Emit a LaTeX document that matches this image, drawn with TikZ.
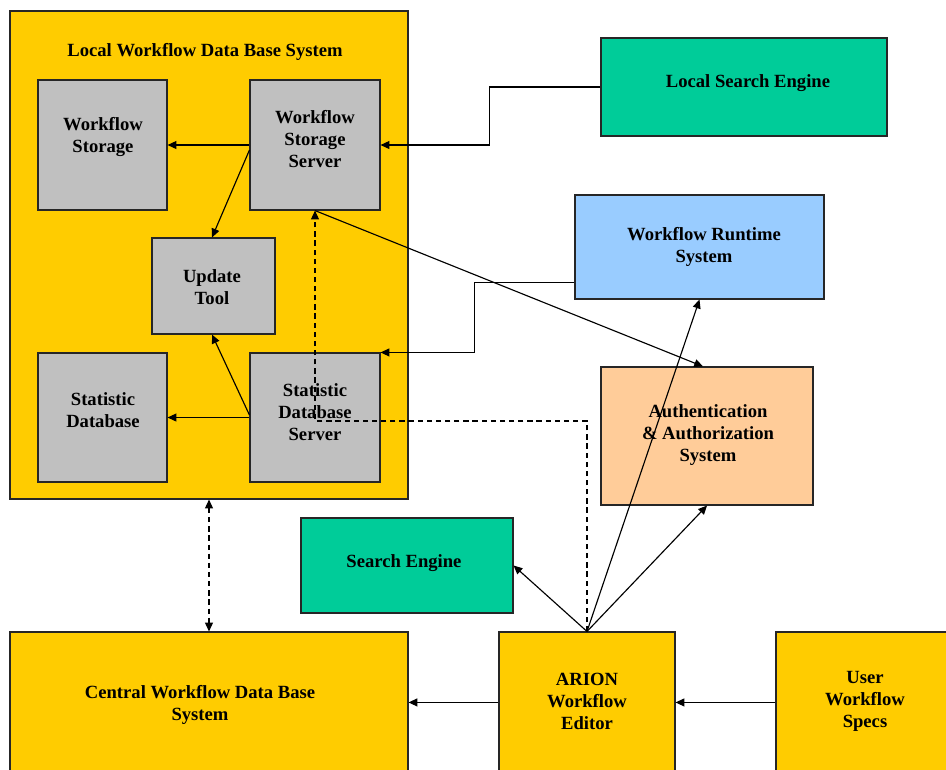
\documentclass[tikz,border=0pt]{standalone}
\usepackage{fontspec}
\setmainfont{Liberation Serif}
\usetikzlibrary{arrows.meta}
\definecolor{dbyellow}{HTML}{FFCC00}
\definecolor{boxgray}{HTML}{C0C0C0}
\definecolor{searchgreen}{HTML}{00CC99}
\definecolor{runblue}{HTML}{99CCFF}
\definecolor{authpeach}{HTML}{FFCC99}
\begin{document}
\begin{tikzpicture}[x=0.02cm,y=-0.02cm,
  >={Triangle[length=5pt,width=4.5pt]},
  box/.style={draw=black!85,line width=0.65pt,inner sep=0pt},
  lbl/.style={align=center,inner sep=0pt,font=\fontsize{10.6}{12.5}\selectfont\bfseries},
  arr/.style={line width=0.65pt,->},
  dsh/.style={line width=0.65pt,dash pattern=on 3pt off 2.2pt}]
\useasboundingbox (0,0) rectangle (946,769);
\fill[white] (0,0) rectangle (946,769);
\begin{scope}
\clip (0,0) rectangle (946,769);

% local database system and its parts
\node[box,fill=dbyellow,minimum width=7.96cm,minimum height=9.76cm] (local) at (209,255) {};
\node[lbl] (local-t) at (205,52) {Local Workflow Data Base System};
\node[box,fill=boxgray,minimum width=2.58cm,minimum height=2.60cm] (ws) at (102.5,145) {};
\node[lbl] (ws-t) at (103,137) {Workflow\\Storage};
\node[box,fill=boxgray,minimum width=2.60cm,minimum height=2.60cm] (wss) at (315,145) {};
\node[lbl] (wss-t) at (315,139) {Workflow\\Storage\\Server};
\node[box,fill=boxgray,minimum width=2.46cm,minimum height=1.92cm] (ut) at (213.5,286) {};
\node[lbl] (ut-t) at (212,287) {Update\\Tool};
\node[box,fill=boxgray,minimum width=2.58cm,minimum height=2.58cm] (sd) at (102.5,417.5) {};
\node[lbl] (sd-t) at (103,410) {Statistic\\Database};
\node[box,fill=boxgray,minimum width=2.60cm,minimum height=2.58cm] (sds) at (315,417.5) {};
\node[lbl] (sds-t) at (315,412) {Statistic\\Database\\Server};

% other systems
\node[box,fill=searchgreen,minimum width=5.72cm,minimum height=1.96cm] (lse) at (744,87) {};
\node[lbl] (lse-t) at (748,83) {Local Search Engine};
\node[box,fill=runblue,minimum width=4.98cm,minimum height=2.08cm] (wrs) at (699.5,247) {};
\node[lbl] (wrs-t) at (704,247) {Workflow Runtime\\System};
\node[box,fill=authpeach,minimum width=4.24cm,minimum height=2.76cm] (auth) at (707,436) {};
\node[lbl] (auth-t) at (708,435) {Authentication\\\& Authorization\\System};
\node[box,fill=searchgreen,minimum width=4.24cm,minimum height=1.90cm] (se) at (407,565.5) {};
\node[lbl] (se-t) at (404,563) {Search Engine};
\node[box,fill=dbyellow,minimum width=7.96cm,minimum height=3.36cm] (central) at (209,716) {};
\node[lbl] (central-t) at (200,705) {Central Workflow Data Base\\System};
\node[box,fill=dbyellow,minimum width=3.52cm,minimum height=3.36cm] (arion) at (587,716) {};
\node[lbl] (arion-t) at (587,701) {ARION\\Workflow\\Editor};
\node[box,fill=dbyellow,minimum width=3.68cm,minimum height=3.36cm] (user) at (868,716) {};
\node[lbl] (user-t) at (865,701) {User\\Workflow\\Specs};

% connectors inside the local system
\draw[arr] (wss.west) -- (ws.east);
\draw[arr] ([yshift=-0.1cm]wss.west) -- ([xshift=-0.03cm]ut.north);
\draw[arr] ([yshift=0.05cm]sds.west) -- ([xshift=-0.03cm]ut.south);
\draw[arr] (sds.west) -- (sd.east);

% connectors from the outside
\draw[arr] (lse.west) -- ++(-111,0) |- (wss.east);
\draw[arr] ([yshift=0.34cm]wrs.south west) -- ++(-100,0) |- (sds.north east);
\draw[arr] (wss.south) -- ([xshift=-0.08cm]auth.north);
\coordinate (bend) at (315,421);
\draw[dsh,->] (arion.north) |- (bend) -- (wss.south);
\draw[arr] (arion.north) -- (se.east);
\draw[arr] (arion.north) -- (wrs.south);
\draw[arr] (arion.north) -- (auth.south);
\draw[arr] ([yshift=-1.42cm]arion.north west) coordinate (ae) -- (ae -| central.east);
\draw[arr] ([yshift=-1.42cm]user.north west) coordinate (ue) -- (ue -| arion.east);
\draw[dsh,<->] (local.south) -- (central.north);
\end{scope}
\end{tikzpicture}
\end{document}
